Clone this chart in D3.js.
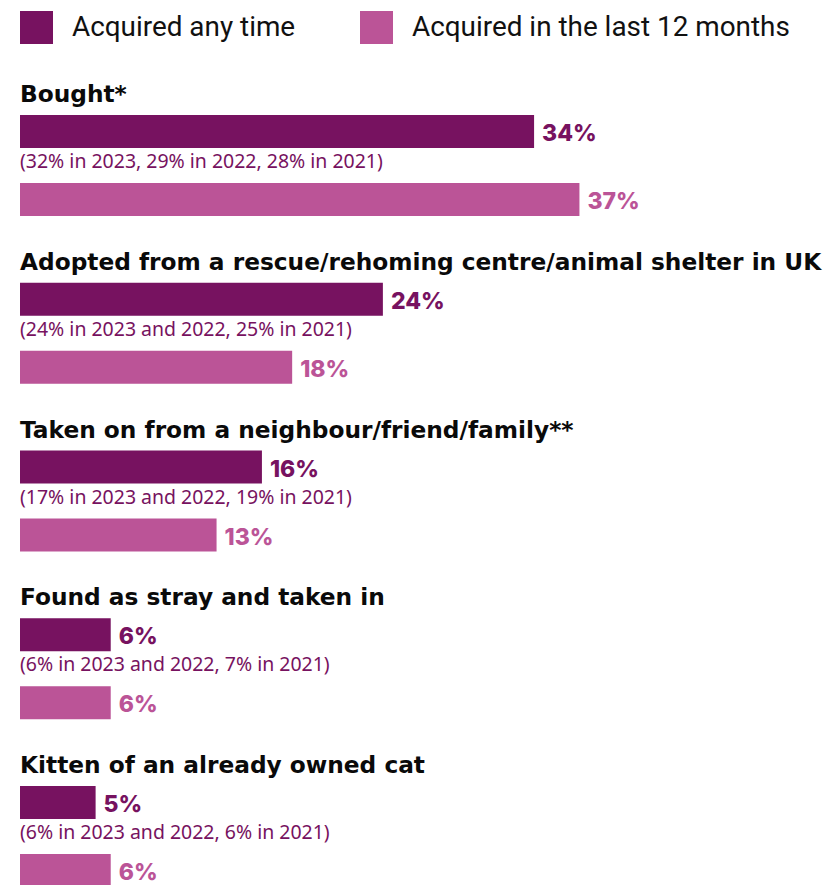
<!DOCTYPE html>
<html>
<head>
<meta charset="utf-8">
<script src="https://cdn.jsdelivr.net/npm/d3@7"></script>
<style>
  html, body { margin: 0; padding: 0; background: #fff; }
  svg { display: block; }
</style>
</head>
<body>
<svg id="chart" width="825" height="885"></svg>
<script>
// Where cats came from: share of owners, all cats vs. cats acquired in the last 12 months
const categories = [
  "Bought*",
  "Adopted from a rescue/rehoming centre/animal shelter in UK",
  "Taken on from a neighbour/friend/family**",
  "Found as stray and taken in",
  "Kitten of an already owned cat"
];
const anyTime = [34, 24, 16, 6, 5];
const last12Months = [37, 18, 13, 6, 6];
const previousYears = [
  "(32% in 2023, 29% in 2022, 28% in 2021)",
  "(24% in 2023 and 2022, 25% in 2021)",
  "(17% in 2023 and 2022, 19% in 2021)",
  "(6% in 2023 and 2022, 7% in 2021)",
  "(6% in 2023 and 2022, 6% in 2021)"
];
const seriesNames = ["Acquired any time", "Acquired in the last 12 months"];

const colors = ["#771260", "#bb5497"];
const titleFont = "'DejaVu Sans', sans-serif";
const noteFont = "'Noto Sans', sans-serif";
const valueFont = "Inter, 'Liberation Sans', sans-serif";

const svg = d3.select("#chart");

const x = d3.scaleLinear().domain([0, 40]).range([20, 20 + 15.12 * 40]);
const y = d3.scalePoint().domain(categories).range([115, 786]);
const barH = 33;
const rowGap = 68;

// Scale a font so that a reference string spans the given width
function fittedSize(family, weight, base, sample, width) {
  const t = svg.append("text")
    .attr("font-family", family).attr("font-weight", weight)
    .attr("font-size", base).text(sample);
  const w = t.node().getComputedTextLength();
  t.remove();
  return base * width / w;
}
const titleSize = fittedSize(titleFont, 700, 22, categories[1], 802);
const noteSize = fittedSize(noteFont, 400, 17, previousYears[0], 363);
const legendSize = fittedSize("Roboto, sans-serif", 400, 26, seriesNames[1], 378);

// Legend
const legend = svg.append("g");
const legendX = [20, 360];
seriesNames.forEach((name, i) => {
  legend.append("rect")
    .attr("x", legendX[i]).attr("y", 11)
    .attr("width", 33).attr("height", 33)
    .attr("fill", colors[i]);
  legend.append("text")
    .attr("x", legendX[i] + 52).attr("y", 36)
    .attr("font-family", "Roboto, sans-serif")
    .attr("font-size", legendSize)
    .attr("fill", "#111")
    .text(name);
});

const rows = categories.map((c, i) => ({
  category: c,
  values: [anyTime[i], last12Months[i]],
  note: previousYears[i]
}));

const group = svg.selectAll("g.row")
  .data(rows)
  .join("g")
  .attr("class", "row")
  .attr("transform", d => `translate(0,${y(d.category)})`);

group.append("text")
  .attr("x", 20).attr("y", -13)
  .attr("font-family", titleFont)
  .attr("font-weight", 700)
  .attr("font-size", titleSize)
  .attr("fill", "#0a0a0a")
  .text(d => d.category);

group.append("text")
  .attr("x", 20).attr("y", 53)
  .attr("font-family", noteFont)
  .attr("font-size", noteSize)
  .attr("fill", colors[0])
  .text(d => d.note);

group.selectAll("rect.bar")
  .data(d => d.values)
  .join("rect")
  .attr("class", "bar")
  .attr("x", x(0))
  .attr("y", (v, j) => j * rowGap)
  .attr("width", v => x(v) - x(0))
  .attr("height", barH)
  .attr("fill", (v, j) => colors[j]);

group.selectAll("text.value")
  .data(d => d.values)
  .join("text")
  .attr("class", "value")
  .attr("x", v => x(v) + 8)
  .attr("y", (v, j) => j * rowGap + barH - 7)
  .attr("font-family", valueFont)
  .attr("font-weight", 800)
  .attr("font-size", 23)
  .attr("fill", (v, j) => colors[j])
  .text(v => v + "%");
</script>
</body>
</html>
